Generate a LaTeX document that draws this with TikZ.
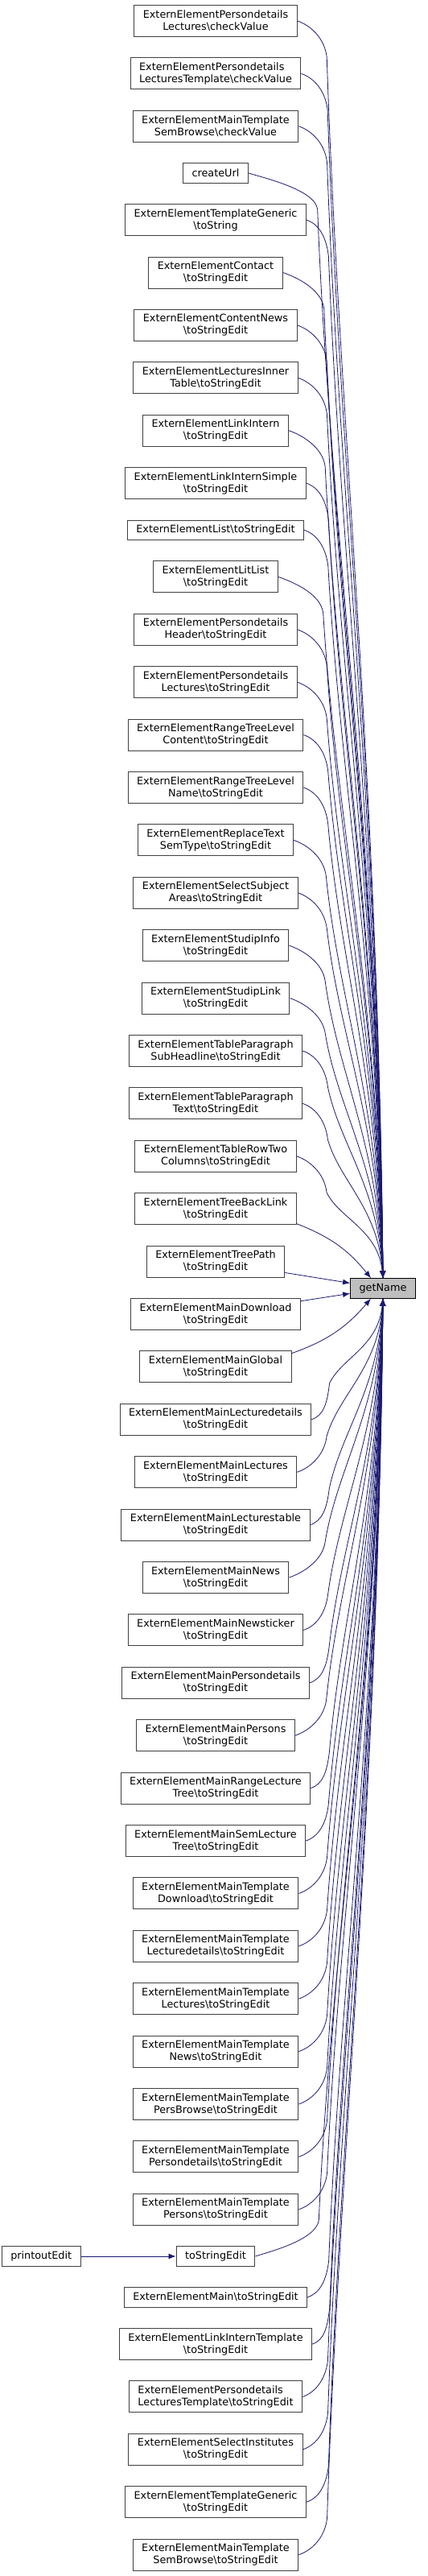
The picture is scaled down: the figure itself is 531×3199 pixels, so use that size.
\documentclass[tikz,border=0pt]{standalone}
\usepackage{fontspec}
\setmainfont{DejaVu Sans}
\usepackage{tikz}
\usetikzlibrary{arrows.meta, positioning, calc}
\definecolor{edgeblue}{HTML}{191970}
\definecolor{boxgray}{HTML}{BFBFBF}
\newcommand{\bsl}{\textbackslash}

\begin{document}
\begin{tikzpicture}[
    x=1pt, y=1pt,
    node distance=25.4pt,
    box/.style={rectangle, draw=black!75, line width=1pt, fill=white, minimum height=39pt, inner xsep=11pt, inner ysep=2pt, align=center, font=\fontsize{12.8}{15}\selectfont},
    flat/.style={box, minimum height=24.5pt},
    arrow/.style={-{Latex[length=9pt, width=7pt]}, draw=edgeblue, line width=0.8pt},
    callup/.style={arrow, to path={let \p1=(\tikztostart), \p2=(\tikztotarget), \n1={0.19*\x1+336pt} in
        .. controls (\x1+15pt,\y1-5pt) and (\n1-3pt,\y1-20pt) .. (\n1,\y1-45pt)
        .. controls (\n1+15pt,{\y1-45pt+0.3*(\y2-\y1+45pt)}) and (\x2-6pt,{\y2+0.4*(\y1-\y2)}) .. (\x2,\y2) \tikztonodes}},
    calldown/.style={arrow, to path={let \p1=(\tikztostart), \p2=(\tikztotarget), \n1={0.19*\x1+336pt} in
        .. controls (\x1+15pt,\y1+5pt) and (\n1-3pt,\y1+20pt) .. (\n1,\y1+45pt)
        .. controls (\n1+15pt,{\y1+45pt+0.3*(\y2-\y1-45pt)}) and (\x2-6pt,{\y2+0.4*(\y1-\y2)}) .. (\x2,\y2) \tikztonodes}}
]
\useasboundingbox (0,0) rectangle (531,-3199);

% callers, top to bottom
\node[box] (pdlCheck) at (268,-26) {ExternElementPersondetails\\Lectures\bsl checkValue};
\node[box, align=left, below=of pdlCheck] (pdltCheck) {ExternElementPersondetails\\LecturesTemplate\bsl checkValue};
\node[box, below=of pdltCheck] (semBrowseCheck) {ExternElementMainTemplate\\SemBrowse\bsl checkValue};
\node[flat, below=of semBrowseCheck] (createUrl) {createUrl};
\node[box, below=of createUrl] (genericStr) {ExternElementTemplateGeneric\\\bsl toString};
\node[box, below=of genericStr] (contact) {ExternElementContact\\\bsl toStringEdit};
\node[box, below=of contact] (contentNews) {ExternElementContentNews\\\bsl toStringEdit};
\node[box, below=of contentNews] (innerTable) {ExternElementLecturesInner\\Table\bsl toStringEdit};
\node[box, below=of innerTable] (linkIntern) {ExternElementLinkIntern\\\bsl toStringEdit};
\node[box, below=of linkIntern] (linkSimple) {ExternElementLinkInternSimple\\\bsl toStringEdit};
\node[flat, below=of linkSimple] (list) {ExternElementList\bsl toStringEdit};
\node[box, below=of list] (litList) {ExternElementLitList\\\bsl toStringEdit};
\node[box, below=of litList] (pdHeader) {ExternElementPersondetails\\Header\bsl toStringEdit};
\node[box, below=of pdHeader] (pdLectures) {ExternElementPersondetails\\Lectures\bsl toStringEdit};
\node[box, below=of pdLectures] (rtlContent) {ExternElementRangeTreeLevel\\Content\bsl toStringEdit};
\node[box, below=of rtlContent] (rtlName) {ExternElementRangeTreeLevel\\Name\bsl toStringEdit};
\node[box, below=of rtlName] (replaceText) {ExternElementReplaceText\\SemType\bsl toStringEdit};
\node[box, below=of replaceText] (subjectAreas) {ExternElementSelectSubject\\Areas\bsl toStringEdit};
\node[box, below=of subjectAreas] (studipInfo) {ExternElementStudipInfo\\\bsl toStringEdit};
\node[box, below=of studipInfo] (studipLink) {ExternElementStudipLink\\\bsl toStringEdit};
\node[box, below=of studipLink] (subHeadline) {ExternElementTableParagraph\\SubHeadline\bsl toStringEdit};
\node[box, below=of subHeadline] (paraText) {ExternElementTableParagraph\\Text\bsl toStringEdit};
\node[box, below=of paraText] (rowTwo) {ExternElementTableRowTwo\\Columns\bsl toStringEdit};
\node[box, below=of rowTwo] (backLink) {ExternElementTreeBackLink\\\bsl toStringEdit};
\node[box, below=of backLink] (treePath) {ExternElementTreePath\\\bsl toStringEdit};
\node[box, below=of treePath] (mainDownload) {ExternElementMainDownload\\\bsl toStringEdit};
\node[box, below=of mainDownload] (mainGlobal) {ExternElementMainGlobal\\\bsl toStringEdit};
\node[box, below=of mainGlobal] (mainLectureDet) {ExternElementMainLecturedetails\\\bsl toStringEdit};
\node[box, below=of mainLectureDet] (mainLectures) {ExternElementMainLectures\\\bsl toStringEdit};
\node[box, below=of mainLectures] (mainLectTable) {ExternElementMainLecturestable\\\bsl toStringEdit};
\node[box, below=of mainLectTable] (mainNews) {ExternElementMainNews\\\bsl toStringEdit};
\node[box, below=of mainNews] (mainTicker) {ExternElementMainNewsticker\\\bsl toStringEdit};
\node[box, below=of mainTicker] (mainPersonDet) {ExternElementMainPersondetails\\\bsl toStringEdit};
\node[box, below=of mainPersonDet] (mainPersons) {ExternElementMainPersons\\\bsl toStringEdit};
\node[box, below=of mainPersons] (mainRangeTree) {ExternElementMainRangeLecture\\Tree\bsl toStringEdit};
\node[box, below=of mainRangeTree] (mainSemTree) {ExternElementMainSemLecture\\Tree\bsl toStringEdit};
\node[box, below=of mainSemTree] (tplDownload) {ExternElementMainTemplate\\Download\bsl toStringEdit};
\node[box, below=of tplDownload] (tplLectureDet) {ExternElementMainTemplate\\Lecturedetails\bsl toStringEdit};
\node[box, below=of tplLectureDet] (tplLectures) {ExternElementMainTemplate\\Lectures\bsl toStringEdit};
\node[box, below=of tplLectures] (tplNews) {ExternElementMainTemplate\\News\bsl toStringEdit};
\node[box, below=of tplNews] (tplPersBrowse) {ExternElementMainTemplate\\PersBrowse\bsl toStringEdit};
\node[box, below=of tplPersBrowse] (tplPersonDet) {ExternElementMainTemplate\\Persondetails\bsl toStringEdit};
\node[box, below=of tplPersonDet] (tplPersons) {ExternElementMainTemplate\\Persons\bsl toStringEdit};
\node[flat, below=of tplPersons] (toEdit) {toStringEdit};
\node[flat, below=of toEdit] (mainEdit) {ExternElementMain\bsl toStringEdit};
\node[box, below=of mainEdit] (linkTemplate) {ExternElementLinkInternTemplate\\\bsl toStringEdit};
\node[box, align=left, below=of linkTemplate] (pdltEdit) {ExternElementPersondetails\\LecturesTemplate\bsl toStringEdit};
\node[box, below=of pdltEdit] (institutes) {ExternElementSelectInstitutes\\\bsl toStringEdit};
\node[box, below=of institutes] (genericEdit) {ExternElementTemplateGeneric\\\bsl toStringEdit};
\node[box, below=of genericEdit] (semBrowseEdit) {ExternElementMainTemplate\\SemBrowse\bsl toStringEdit};

\node[flat, left=118pt of toEdit] (printoutEdit) {printoutEdit};
\node[flat, fill=boxgray, draw=black] (getName) at (476,-1600) {getName};

% calls from above
\draw[callup] (pdlCheck.east) to (getName.north);
\draw[callup] (pdltCheck.east) to (getName.north);
\draw[callup] (semBrowseCheck.east) to (getName.north);
\draw[callup] (createUrl.east) to (getName.north);
\draw[callup] (genericStr.east) to (getName.north);
\draw[callup] (contact.east) to (getName.north);
\draw[callup] (contentNews.east) to (getName.north);
\draw[callup] (innerTable.east) to (getName.north);
\draw[callup] (linkIntern.east) to (getName.north);
\draw[callup] (linkSimple.east) to (getName.north);
\draw[callup] (list.east) to (getName.north);
\draw[callup] (litList.east) to (getName.north);
\draw[callup] (pdHeader.east) to (getName.north);
\draw[callup] (pdLectures.east) to (getName.north);
\draw[callup] (rtlContent.east) to (getName.north);
\draw[callup] (rtlName.east) to (getName.north);
\draw[callup] (replaceText.east) to (getName.north);
\draw[callup] (subjectAreas.east) to (getName.north);
\draw[callup] (studipInfo.east) to (getName.north);
\draw[callup] (studipLink.east) to (getName.north);
\draw[callup] (subHeadline.east) to (getName.north);
\draw[callup] (paraText.east) to (getName.north);
\draw[callup] (rowTwo.east) to (getName.north);
\draw[arrow] (backLink) to[bend left=15] (getName);
\draw[arrow] (treePath) -- (getName);
\draw[arrow] (mainDownload) -- (getName);
\draw[arrow] (mainGlobal) to[bend right=15] (getName);
% calls from below
\draw[calldown] (mainLectureDet.east) to (getName.south);
\draw[calldown] (mainLectures.east) to (getName.south);
\draw[calldown] (mainLectTable.east) to (getName.south);
\draw[calldown] (mainNews.east) to (getName.south);
\draw[calldown] (mainTicker.east) to (getName.south);
\draw[calldown] (mainPersonDet.east) to (getName.south);
\draw[calldown] (mainPersons.east) to (getName.south);
\draw[calldown] (mainRangeTree.east) to (getName.south);
\draw[calldown] (mainSemTree.east) to (getName.south);
\draw[calldown] (tplDownload.east) to (getName.south);
\draw[calldown] (tplLectureDet.east) to (getName.south);
\draw[calldown] (tplLectures.east) to (getName.south);
\draw[calldown] (tplNews.east) to (getName.south);
\draw[calldown] (tplPersBrowse.east) to (getName.south);
\draw[calldown] (tplPersonDet.east) to (getName.south);
\draw[calldown] (tplPersons.east) to (getName.south);
\draw[calldown] (toEdit.east) to (getName.south);
\draw[calldown] (mainEdit.east) to (getName.south);
\draw[calldown] (linkTemplate.east) to (getName.south);
\draw[calldown] (pdltEdit.east) to (getName.south);
\draw[calldown] (institutes.east) to (getName.south);
\draw[calldown] (genericEdit.east) to (getName.south);
\draw[calldown] (semBrowseEdit.east) to (getName.south);

\draw[arrow] (printoutEdit) -- (toEdit);
\end{tikzpicture}
\end{document}
